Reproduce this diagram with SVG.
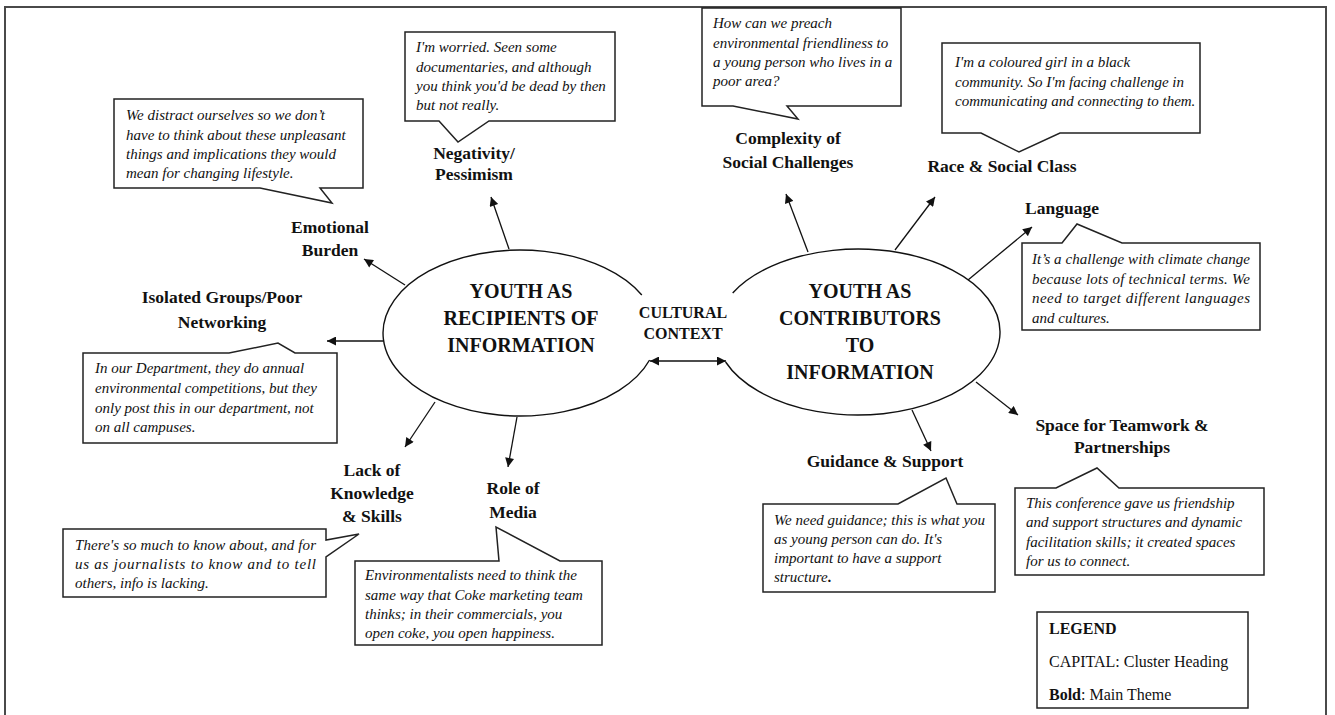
<svg xmlns="http://www.w3.org/2000/svg" width="1335" height="715" viewBox="0 0 1335 715">
<defs>
<style>
.frame{fill:none;stroke:#4a4a4a;stroke-width:2}
.box{fill:#fff;stroke:#222;stroke-width:1.5;stroke-linejoin:miter}
.ell{fill:none;stroke:#111;stroke-width:1.4}
.q{font-family:"Liberation Serif","Times New Roman",serif;font-style:italic;font-size:15px;fill:#111}
.lb{font-family:"Liberation Serif","Times New Roman",serif;font-weight:bold;font-size:17.5px;fill:#111;text-anchor:middle}
.hd{font-family:"Liberation Serif","Times New Roman",serif;font-weight:bold;font-size:20px;fill:#111;text-anchor:middle}
.cc{font-family:"Liberation Serif","Times New Roman",serif;font-weight:bold;font-size:16px;fill:#111;text-anchor:middle}
.lg{font-family:"Liberation Serif","Times New Roman",serif;font-size:16px;fill:#111}
.arr{fill:none;stroke:#111;stroke-width:1.3;marker-end:url(#ah)}
.bi{fill:none;stroke:#111;stroke-width:1.3;marker-end:url(#ah);marker-start:url(#ah)}
</style>
<marker id="ah" viewBox="0 0 10 10" refX="10" refY="5" markerUnits="userSpaceOnUse" markerWidth="10" markerHeight="9" orient="auto-start-reverse">
<path d="M0,0 L10,5 L0,10 Z" fill="#111"/>
</marker>
</defs>
<rect x="0" y="0" width="1335" height="715" fill="#fff"/>
<path class="frame" d="M5,716 V7 H1326 V716"/>

<g id="connectors">
<path class="arr" d="M509,249 L491,197"/>
<path class="arr" d="M405,285 L364,259"/>
<path class="arr" d="M383,341 L327,341"/>
<path class="arr" d="M435,402 L405,447"/>
<path class="arr" d="M517,417 L508,467"/>
<path class="arr" d="M808,252 L786,194"/>
<path class="arr" d="M895,250 L935,197"/>
<path class="arr" d="M968,280 L1032,227"/>
<path class="arr" d="M976,382 L1018,415"/>
<path class="arr" d="M912,410 L931,451"/>
<path class="bi" d="M650,361 L726,361"/>
</g>

<g id="recipients">
<path class="ell" d="M641.8,295 A137,83 0 1 0 649.6,360"/>
<text class="hd" x="521" y="298">YOUTH AS</text>
<text class="hd" x="521" y="325">RECIPIENTS OF</text>
<text class="hd" x="521" y="352">INFORMATION</text>
</g>

<g id="contributors">
<path class="ell" d="M732.7,293 A142,83 0 1 1 725.6,362"/>
<text class="hd" x="860" y="298">YOUTH AS</text>
<text class="hd" x="860" y="325">CONTRIBUTORS</text>
<text class="hd" x="860" y="352">TO</text>
<text class="hd" x="860" y="379">INFORMATION</text>
</g>

<g id="cultural-context">
<text class="cc" x="683" y="318">CULTURAL</text>
<text class="cc" x="683" y="339">CONTEXT</text>
</g>

<g id="negativity">
<text class="lb" x="474" y="159">Negativity/</text>
<text class="lb" x="474" y="180">Pessimism</text>
</g>
<g id="negativity-quote">
<path class="box" d="M405,32 H615 V121 H489 L458,142 L439,121 H405 Z"/>
<text class="q" x="416" y="52">I'm worried. Seen some</text>
<text class="q" x="416" y="72">documentaries, and although</text>
<text class="q" x="416" y="91">you think you'd be dead by then</text>
<text class="q" x="416" y="110">but not really.</text>
</g>

<g id="emotional">
<text class="lb" x="330" y="233">Emotional</text>
<text class="lb" x="330" y="256">Burden</text>
</g>
<g id="emotional-quote">
<path class="box" d="M114,99 H363 V188 H320 L332,203 L260,188 H114 Z"/>
<text class="q" x="126" y="120">We distract ourselves so we don’t</text>
<text class="q" x="126" y="140">have to think about these unpleasant</text>
<text class="q" x="126" y="159">things and implications they would</text>
<text class="q" x="126" y="178">mean for changing lifestyle.</text>
</g>

<g id="isolated">
<text class="lb" x="222" y="303">Isolated Groups/Poor</text>
<text class="lb" x="222" y="328">Networking</text>
</g>
<g id="isolated-quote">
<path class="box" d="M83,353 H229 L278,343 L295,353 H337 V443 H83 Z"/>
<text class="q" x="95" y="373">In our Department, they do annual</text>
<text class="q" x="95" y="393">environmental competitions, but they</text>
<text class="q" x="95" y="413">only post this in our department, not</text>
<text class="q" x="95" y="432">on all campuses.</text>
</g>

<g id="lack">
<text class="lb" x="372" y="476">Lack of</text>
<text class="lb" x="372" y="499">Knowledge</text>
<text class="lb" x="372" y="522">&amp; Skills</text>
</g>
<g id="lack-quote">
<path class="box" d="M63,529 H326 V540 L359,534 L326,557 V597 H63 Z"/>
<text class="q" x="75" y="550" textLength="241" lengthAdjust="spacing">There's so much to know about, and for</text>
<text class="q" x="75" y="569" textLength="241" lengthAdjust="spacing">us as journalists to know and to tell</text>
<text class="q" x="75" y="588">others, info is lacking.</text>
</g>

<g id="media">
<text class="lb" x="513" y="494">Role of</text>
<text class="lb" x="513" y="518">Media</text>
</g>
<g id="media-quote">
<path class="box" d="M355,561 H499 L496,527 L560,561 H602 V645 H355 Z"/>
<text class="q" x="365" y="580">Environmentalists need to think the</text>
<text class="q" x="365" y="600">same way that Coke marketing team</text>
<text class="q" x="365" y="619">thinks; in their commercials, you</text>
<text class="q" x="365" y="638">open coke, you open happiness.</text>
</g>

<g id="complexity">
<text class="lb" x="788" y="144">Complexity of</text>
<text class="lb" x="788" y="168">Social Challenges</text>
</g>
<g id="complexity-quote">
<path class="box" d="M702,8 H901 V106 H787 L798,119 L733,106 H702 Z"/>
<text class="q" x="713" y="28">How can we preach</text>
<text class="q" x="713" y="48">environmental friendliness to</text>
<text class="q" x="713" y="67">a young person who lives in a</text>
<text class="q" x="713" y="86">poor area?</text>
</g>

<g id="race">
<text class="lb" x="1002" y="172">Race &amp; Social Class</text>
</g>
<g id="race-quote">
<path class="box" d="M942,43 H1200 V133 H1060 L1019,152 L981,133 H942 Z"/>
<text class="q" x="955" y="67">I'm a coloured girl in a black</text>
<text class="q" x="955" y="87">community. So I'm facing challenge in</text>
<text class="q" x="955" y="106">communicating and connecting to them.</text>
</g>

<g id="language">
<text class="lb" x="1062" y="214">Language</text>
</g>
<g id="language-quote">
<path class="box" d="M1022,243 H1062 L1077,224 L1122,243 H1260 V330 H1022 Z"/>
<text class="q" x="1032" y="264" textLength="218" lengthAdjust="spacing">It’s a challenge with climate change</text>
<text class="q" x="1032" y="284" textLength="218" lengthAdjust="spacing">because lots of technical terms. We</text>
<text class="q" x="1032" y="303" textLength="218" lengthAdjust="spacing">need to target different languages</text>
<text class="q" x="1032" y="323">and cultures.</text>
</g>

<g id="teamwork">
<text class="lb" x="1122" y="431">Space for Teamwork &amp;</text>
<text class="lb" x="1122" y="453">Partnerships</text>
</g>
<g id="teamwork-quote">
<path class="box" d="M1015,488 H1056 L1097,468 L1119,488 H1264 V575 H1015 Z"/>
<text class="q" x="1026" y="508">This conference gave us friendship</text>
<text class="q" x="1026" y="527">and support structures and dynamic</text>
<text class="q" x="1026" y="547">facilitation skills; it created spaces</text>
<text class="q" x="1026" y="566">for us to connect.</text>
</g>

<g id="guidance">
<text class="lb" x="885" y="467">Guidance &amp; Support</text>
</g>
<g id="guidance-quote">
<path class="box" d="M763,504 H898 L946,478 L957,504 H995 V592 H763 Z"/>
<text class="q" x="774" y="525">We need guidance; this is what you</text>
<text class="q" x="774" y="544">as young person can do. It's</text>
<text class="q" x="774" y="563">important to have a support</text>
<text class="q" x="774" y="582">structure<tspan font-style="normal" font-weight="bold">.</tspan></text>
</g>

<g id="legend">
<rect class="box" x="1037" y="612" width="211" height="96"/>
<text class="lg" x="1049" y="634" font-weight="bold">LEGEND</text>
<text class="lg" x="1049" y="667">CAPITAL: Cluster Heading</text>
<text class="lg" x="1049" y="700"><tspan font-weight="bold">Bold</tspan>: Main Theme</text>
</g>
</svg>
